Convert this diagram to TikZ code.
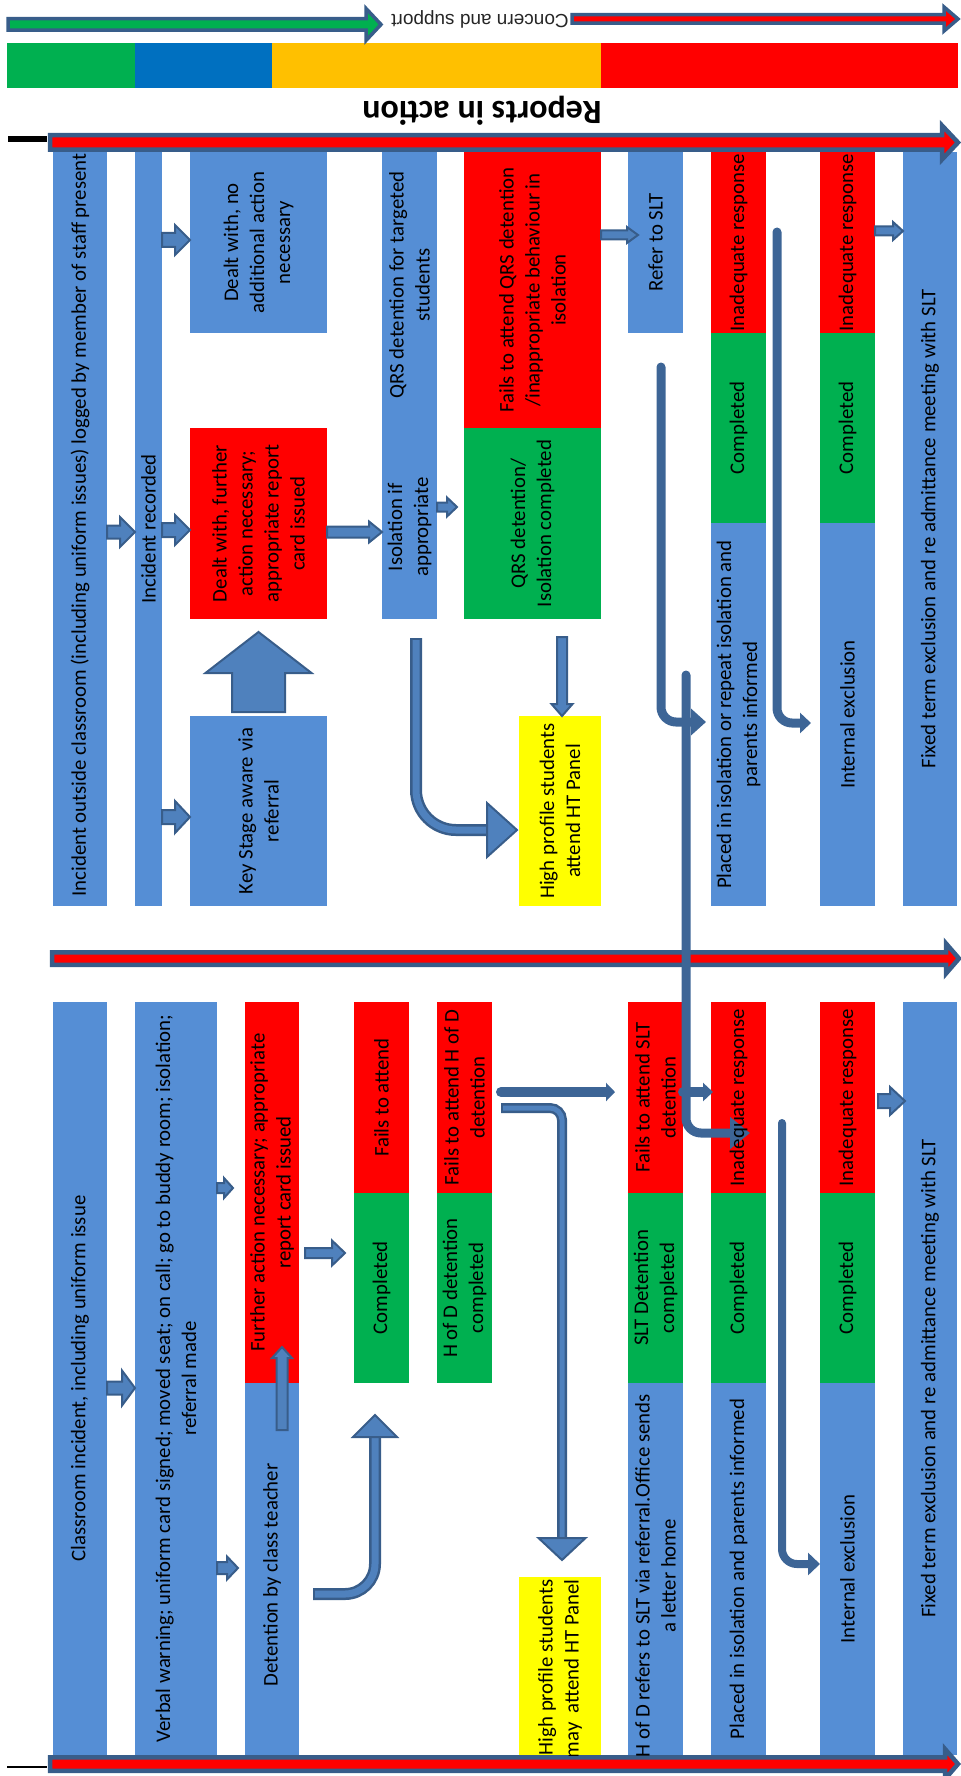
\documentclass[tikz,border=0pt]{standalone}
\usepackage{fontspec}
\setmainfont{Carlito}
\newfontfamily\arialf{Liberation Sans}
\usetikzlibrary{arrows.meta,calc}

\definecolor{cblue}{RGB}{85,142,213}
\definecolor{cred}{RGB}{255,0,0}
\definecolor{cgreen}{RGB}{0,176,80}
\definecolor{cyellow}{RGB}{255,255,0}
\definecolor{afill}{RGB}{79,129,189}
\definecolor{aline}{RGB}{56,93,138}
\definecolor{conn}{RGB}{61,101,150}
\definecolor{barblue}{RGB}{0,112,192}
\definecolor{barorange}{RGB}{255,192,0}

\tikzset{
  box/.style={rectangle, draw=none, inner sep=0pt, outer sep=0pt},
  txt/.style={rotate=90, align=center, inner sep=0pt, font=\fontsize{10.4}{13}\selectfont, text=black},
  blockarrow/.style={fill=afill, draw=aline, line width=1pt, line join=miter},
  gbar/.style={fill=cgreen, draw=aline, line width=1.75pt, line join=miter},
  rbar/.style={fill=cred, draw=aline, line width=1.75pt, line join=miter},
  mainbar/.style={fill=cred, draw=aline, line width=2.25pt, line join=miter},
  conline/.style={draw=conn, line width=4.5pt, line cap=round, rounded corners=7.5pt},
  oline/.style={draw=aline},
  iline/.style={draw=afill},
}

% box: name, x1, y1, x2, y2, fill
\newcommand\bx[6]{\node[box, fill=#6, minimum width={(#4-#2)*0.5pt}, minimum height={(#5-#3)*0.5pt}] (#1) at ({(#2+#4)/2},{(#3+#5)/2}) {};}
% right-pointing block arrow: [style]{start}{tip}{shaft half}{head half}{head length}
\newcommand\harrow[6][blockarrow]{\path[#1] let \p1=(#2), \p2=(#3) in
  (\x1,{\y1+(#4)*0.5pt}) -- ({\x2-(#6)*0.5pt},{\y1+(#4)*0.5pt}) -- ({\x2-(#6)*0.5pt},{\y1+(#5)*0.5pt}) -- (\x2,\y1) -- ({\x2-(#6)*0.5pt},{\y1-(#5)*0.5pt}) -- ({\x2-(#6)*0.5pt},{\y1-(#4)*0.5pt}) -- (\x1,{\y1-(#4)*0.5pt}) -- cycle;}
% vertical block arrow: [style]{start}{tip}{shaft half}{head half}{signed head length (+ = up)}
\newcommand\varrow[6][blockarrow]{\path[#1] let \p1=(#2), \p2=(#3) in
  ({\x1-(#4)*0.5pt},\y1) -- ({\x1-(#4)*0.5pt},{\y2-(#6)*0.5pt}) -- ({\x1-(#5)*0.5pt},{\y2-(#6)*0.5pt}) -- (\x1,\y2) -- ({\x1+(#5)*0.5pt},{\y2-(#6)*0.5pt}) -- ({\x1+(#4)*0.5pt},{\y2-(#6)*0.5pt}) -- ({\x1+(#4)*0.5pt},\y1) -- cycle;}
% heads only
\newcommand\headR[3]{\path[blockarrow] let \p1=(#1) in ({\x1-(#3)*0.5pt},{\y1+(#2)*0.5pt}) -- (\x1,\y1) -- ({\x1-(#3)*0.5pt},{\y1-(#2)*0.5pt}) -- cycle;}
\newcommand\headV[3]{\path[blockarrow] let \p1=(#1) in ({\x1-(#2)*0.5pt},{\y1-(#3)*0.5pt}) -- (\x1,\y1) -- ({\x1+(#2)*0.5pt},{\y1-(#3)*0.5pt}) -- cycle;}

\begin{document}
\begin{tikzpicture}[x=0.5pt,y=-0.5pt]
\useasboundingbox (0,0) rectangle (961,1776);

% ---------- colour band ----------
\bx{bandg}{7}{43}{135}{88}{cgreen}
\bx{bandb}{135}{43}{272}{88}{barblue}
\bx{bandy}{272}{43}{601}{88}{barorange}
\bx{bandr}{601}{43}{958}{88}{cred}

% ---------- upper section boxes ----------
\bx{c1}{53}{152}{107}{906}{cblue}
\bx{c2}{135}{152}{162}{906}{cblue}
\bx{a}{190}{152}{327}{333}{cblue}
\bx{b}{190}{428}{327}{619}{cred}
\bx{kc}{190}{716}{327}{906}{cblue}
\bx{d}{382}{152}{437}{619}{cblue}
\bx{e}{464}{152}{601}{428}{cred}
\bx{f}{464}{428}{601}{619}{cgreen}
\bx{g}{519}{716}{601}{906}{cyellow}
\bx{h}{628}{152}{683}{333}{cblue}
\bx{i}{711}{152}{766}{333}{cred}
\bx{j}{711}{333}{766}{523}{cgreen}
\bx{k}{711}{523}{766}{906}{cblue}
\bx{l}{820}{152}{875}{333}{cred}
\bx{m}{820}{333}{875}{523}{cgreen}
\bx{n}{820}{523}{875}{906}{cblue}
\bx{o}{903}{152}{957}{906}{cblue}

% ---------- lower section boxes ----------
\bx{L1}{53}{1002}{107}{1755}{cblue}
\bx{L2}{135}{1002}{217}{1755}{cblue}
\bx{L3r}{245}{1002}{299}{1383}{cred}
\bx{L3b}{245}{1383}{299}{1755}{cblue}
\bx{L4r}{354}{1002}{409}{1193}{cred}
\bx{L4g}{354}{1193}{409}{1383}{cgreen}
\bx{L5r}{437}{1002}{492}{1193}{cred}
\bx{L5g}{437}{1193}{492}{1383}{cgreen}
\bx{LY}{519}{1577}{601}{1755}{cyellow}
\bx{L6r}{628}{1002}{683}{1193}{cred}
\bx{L6g}{628}{1193}{683}{1383}{cgreen}
\bx{L6b}{628}{1383}{683}{1755}{cblue}
\bx{L7r}{711}{1002}{766}{1193}{cred}
\bx{L7g}{711}{1193}{766}{1383}{cgreen}
\bx{L7b}{711}{1383}{766}{1755}{cblue}
\bx{L8r}{820}{1002}{875}{1193}{cred}
\bx{L8g}{820}{1193}{875}{1383}{cgreen}
\bx{L8b}{820}{1383}{875}{1755}{cblue}
\bx{L9}{903}{1002}{957}{1755}{cblue}

% ---------- big bars ----------
\coordinate (TGs) at (8,24.5);   \coordinate (TGe) at (381,24.5);
\harrow[gbar]{TGs}{TGe}{5.75}{16}{15}
\coordinate (TRs) at (572,19);   \coordinate (TRe) at (958,19);
\harrow[rbar]{TRs}{TRe}{4.25}{12}{14}
\coordinate (T1s) at (50,142.5); \coordinate (T1e) at (958,142.5);
\harrow[mainbar]{T1s}{T1e}{7.25}{17}{16}
\coordinate (M1s) at (52,958.5); \coordinate (M1e) at (959,958.5);
\harrow[mainbar]{M1s}{M1e}{6.25}{15}{13}
\coordinate (B0s) at (50,1764);  \coordinate (B0e) at (958,1764);
\harrow[mainbar]{B0s}{B0e}{6.75}{15}{13}
\coordinate (k1a) at (8,139);  \coordinate (k1b) at (47,139);
\draw[line width=3pt] (k1a) -- (k1b);
\coordinate (k2a) at (7,1767); \coordinate (k2b) at (47,1767);
\draw[line width=1pt] (k2a) -- (k2b);

% ---------- upper connectors ----------
\coordinate (A1s) at (c1.east |- 0,532); \coordinate (A1e) at (c2.west |- 0,532);
\harrow{A1s}{A1e}{6.5}{15}{15}
\coordinate (A2s) at (c2.east |- 0,240); \coordinate (A2e) at (a.west |- 0,240);
\harrow{A2s}{A2e}{7}{15}{15}
\coordinate (A3s) at (c2.east |- 0,530); \coordinate (A3e) at (b.west |- 0,530);
\harrow{A3s}{A3e}{7}{15}{15}
\coordinate (A4s) at (c2.east |- 0,817); \coordinate (A4e) at (kc.west |- 0,817);
\harrow{A4s}{A4e}{7}{16}{15}
\coordinate (A5s) at (b.east |- 0,532); \coordinate (A5e) at (d.west |- 0,532);
\harrow{A5s}{A5e}{5.5}{10.5}{13}
\coordinate (A6s) at (d.east |- 0,507); \coordinate (A6e) at ($(f.west |- 0,507)+(-7,0)$);
\harrow{A6s}{A6e}{4.5}{9.5}{10}
\coordinate (A7s) at ($(kc.north)+(0,-4)$); \coordinate (A7e) at ($(b.south)+(0,13)$);
\varrow{A7s}{A7e}{26.5}{53}{41}
\coordinate (A8s) at ($(f.south -| 562,0)+(0,18)$); \coordinate (A8e) at (g.north -| 562,0);
\varrow{A8s}{A8e}{5}{10.5}{-12}
\coordinate (A9s) at ($(d.south -| 416,0)+(0,19)$);
\coordinate (A9i) at ($(d.south -| 416,0)+(0,21)$);
\coordinate (A9b) at ($(g.west |- 0,830)+(-32,0)$);
\coordinate (A9e) at ($(g.west |- 0,830)+(-2,0)$);
\draw[oline, line width=6pt, rounded corners=20pt] (A9s) |- (A9b);
\draw[iline, line width=3.5pt, rounded corners=20pt] (A9i) |- (A9b);
\headR{A9e}{27}{30}
\coordinate (A10s) at (e.east |- 0,235); \coordinate (A10e) at ($(h.west |- 0,235)+(10,0)$);
\harrow{A10s}{A10e}{4.5}{8}{11}
\coordinate (A11s) at ($(h.south -| 661,0)+(0,34)$); \coordinate (A11e) at ($(k.west |- 0,722)+(-5,0)$);
\draw[conline, -{Triangle[length=7.5pt,width=13pt]}] (A11s) |- (A11e);
\coordinate (A12s) at ($(i.east |- 0,232)+(11,0)$); \coordinate (A12e) at ($(n.west |- 0,723)+(-9,0)$);
\draw[conline, -{Triangle[length=5.5pt,width=10pt]}] (A12s) |- (A12e);
\coordinate (A13s) at (l.east |- 0,231); \coordinate (A13e) at (o.west |- 0,231);
\harrow{A13s}{A13e}{4.5}{9}{10}
\coordinate (Vs) at ($(k.north west)+(-25,152)$); \coordinate (Ve) at ($(L7r.west |- 0,1133)+(39,0)$);
\draw[conline, -{Triangle[length=10pt,width=15.5pt]}] (Vs) |- (Ve);

% ---------- lower connectors ----------
\coordinate (B1s) at (L1.east |- 0,1388); \coordinate (B1e) at (L2.west |- 0,1388);
\harrow{B1s}{B1e}{6.5}{17.5}{13}
\coordinate (B2s) at (L2.east |- 0,1188); \coordinate (B2e) at ($(L3r.west |- 0,1188)+(-12,0)$);
\harrow{B2s}{B2e}{5}{10}{9}
\coordinate (B3s) at (L2.east |- 0,1568); \coordinate (B3e) at ($(L3b.west |- 0,1568)+(-7,0)$);
\harrow{B3s}{B3e}{6}{11.5}{11}
\coordinate (B4s) at ($(L3r.east |- 0,1253)+(6,0)$); \coordinate (B4e) at ($(L4g.west |- 0,1253)+(-9,0)$);
\harrow{B4s}{B4e}{5}{12.5}{13}
\coordinate (B5s) at ($(L3b.north -| 282,0)+(0,47)$); \coordinate (B5e) at ($(L3r.south -| 282,0)+(0,-36)$);
\varrow{B5s}{B5e}{5.5}{10}{11}
\coordinate (B6s) at ($(L3b.east |- 0,1594)+(14,0)$);
\coordinate (B6i) at ($(L3b.east |- 0,1594)+(16,0)$);
\coordinate (B6b) at ($(L4g.south -| 375,0)+(0,54)$);
\coordinate (B6e) at ($(L4g.south -| 375,0)+(0,32)$);
\draw[oline, line width=6pt, rounded corners=15pt] (B6s) -| (B6b);
\draw[iline, line width=3.5pt, rounded corners=15pt] (B6i) -| (B6b);
\headV{B6e}{22}{22}
\coordinate (B7s) at ($(L5r.east |- 0,1092)+(9,0)$); \coordinate (B7e) at ($(L6r.west |- 0,1092)+(-13,0)$);
\draw[conline, line width=5pt, -{Triangle[length=4.5pt,width=9pt]}] (B7s) -- (B7e);
\coordinate (B8s) at ($(L5r.east |- 0,1108)+(9,0)$);
\coordinate (B8i) at ($(L5r.east |- 0,1108)+(11,0)$);
\coordinate (B8b) at ($(LY.north -| 562,0)+(0,-39)$);
\coordinate (B8e) at ($(LY.north -| 562,0)+(0,-17)$);
\draw[oline, line width=5pt, rounded corners=6pt] (B8s) -| (B8b);
\draw[iline, line width=2.5pt, rounded corners=6pt] (B8i) -| (B8b);
\headV{B8e}{23.5}{-22}
\coordinate (B9s) at (L6r.east |- 0,1092); \coordinate (B9e) at ($(L7r.west |- 0,1092)+(2,0)$);
\draw[conline, line width=5pt, -{Triangle[length=5pt,width=9pt]}] (B9s) -- (B9e);
\coordinate (B11s) at ($(L7r.south -| 782,0)+(0,-70)$); \coordinate (B11e) at (L8b.west |- 0,1564);
\draw[conline, line width=4pt, -{Triangle[length=6pt,width=11pt]}] (B11s) |- (B11e);
\coordinate (B12s) at ($(L8r.east |- 0,1101)+(3,0)$); \coordinate (B12e) at ($(L9.west |- 0,1101)+(2,0)$);
\harrow{B12s}{B12e}{7}{14}{15}

% ---------- header texts ----------
\node[rotate=180, inner sep=0pt, font=\arialf\fontsize{9.5}{11}\selectfont, text=black!85] (cs) at (480,19) {Concern and support};
\node[rotate=180, inner sep=0pt, font=\bfseries\fontsize{17}{20}\selectfont] (title) at (482,111) {Reports in action};

% ---------- upper texts ----------
\begin{scope}
\clip (c1.north west) rectangle (c1.south east);
\node[txt, anchor=west] (c1t) at (80,897) {Incident outside classroom (including uniform issues) logged by member of staff present};
\end{scope}
\node[txt] (c2t) at (c2) {Incident recorded};
\node[txt] (at) at (a) {Dealt with, no\\additional action\\necessary};
\node[txt] (bt) at (b) {Dealt with, further\\action necessary;\\appropriate report\\card issued};
\node[txt] (kct) at (kc) {Key Stage aware via\\referral};
\node[txt] (dt1) at (409.5,285) {QRS detention for targeted\\students};
\node[txt] (dt2) at (409.5,527) {Isolation if\\appropriate};
\node[txt] (et) at (e) {Fails to attend QRS detention\\/inappropriate behaviour in\\isolation};
\node[txt] (ft) at (f) {QRS detention/\\Isolation completed};
\node[txt] (gt) at (g) {High profile students\\attend HT Panel};
\node[txt] (ht) at (h) {Refer to SLT};
\node[txt] (it) at (i) {Inadequate response};
\node[txt] (jt) at (j) {Completed};
\node[txt] (kt) at (k) {Placed in isolation or repeat isolation and\\parents informed};
\node[txt] (lt) at (l) {Inadequate response};
\node[txt] (mt) at (m) {Completed};
\node[txt] (nt) at (n) {Internal exclusion};
\node[txt] (ot) at (o) {Fixed term exclusion and re admittance meeting with SLT};

% ---------- lower texts ----------
\node[txt] (L1t) at (L1) {Classroom incident, including uniform issue};
\begin{scope}
\clip (L2.north west) rectangle (L2.south east);
\node[txt] (L2t) at (L2) {Verbal warning; uniform card signed; moved seat; on call; go to buddy room; isolation;\\referral made};
\end{scope}
\node[txt] (L3rt) at (L3r) {Further action necessary; appropriate\\report card issued};
\node[txt] (L3bt) at ($(L3b)+(0,6)$) {Detention by class teacher};
\node[txt] (L4rt) at (L4r) {Fails to attend};
\node[txt] (L4gt) at (L4g) {Completed};
\node[txt] (L5rt) at (L5r) {Fails to attend H of D\\detention};
\node[txt] (L5gt) at (L5g) {H of D detention\\completed};
\begin{scope}
\clip (LY.north west) rectangle (LY.south east);
\node[txt, align=right, anchor=east] (LYt) at (560,1579) {High profile students\\may\ \ attend HT Panel};
\end{scope}
\node[txt] (L6rt) at (L6r) {Fails to attend SLT\\detention};
\node[txt] (L6gt) at (L6g) {SLT Detention\\completed};
\begin{scope}
\clip (L6b.north west) rectangle (L6b.south east);
\node[txt] (L6bt) at ($(L6b)+(0,7)$) {H of D refers to SLT via referral.Office sends\\a letter home};
\end{scope}
\node[txt] (L7rt) at (L7r) {Inadequate response};
\node[txt] (L7gt) at (L7g) {Completed};
\node[txt] (L7bt) at (L7b) {Placed in isolation and parents informed};
\node[txt] (L8rt) at (L8r) {Inadequate response};
\node[txt] (L8gt) at (L8g) {Completed};
\node[txt] (L8bt) at (L8b) {Internal exclusion};
\node[txt] (L9t) at (L9) {Fixed term exclusion and re admittance meeting with SLT};
\end{tikzpicture}
\end{document}
